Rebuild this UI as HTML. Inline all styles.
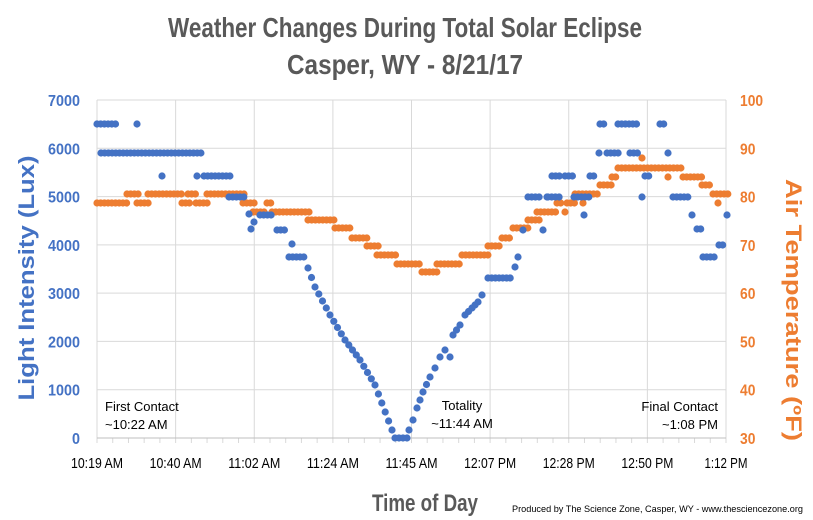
<!DOCTYPE html>
<html><head><meta charset="utf-8"><style>body{margin:0;background:#fff}svg{display:block}</style></head>
<body>
<svg id="s" width="813" height="520" xmlns="http://www.w3.org/2000/svg" font-family="'Liberation Sans Narrow','Liberation Sans',sans-serif">
<rect width="813" height="520" fill="#fff"/>
<g id="grid" stroke="#d9d9d9" stroke-width="1"></g>
<g id="dots"></g>
<g font-weight="bold" fill="#595959">
<text x="405" y="37" font-size="28" text-anchor="middle" textLength="474" lengthAdjust="spacingAndGlyphs">Weather Changes During Total Solar Eclipse</text>
<text x="405" y="74" font-size="28" text-anchor="middle" textLength="236" lengthAdjust="spacingAndGlyphs">Casper, WY - 8/21/17</text>
<text x="425" y="511" font-size="24" text-anchor="middle" textLength="106" lengthAdjust="spacingAndGlyphs">Time of Day</text>
</g>
<text x="34" y="278" font-size="22" font-weight="bold" fill="#4472C4" text-anchor="middle" transform="rotate(-90 34 278)" textLength="245" lengthAdjust="spacingAndGlyphs">Light Intensity (Lux)</text>
<text x="786" y="310" font-size="22" font-weight="bold" fill="#ED7D31" text-anchor="middle" transform="rotate(90 786 310)" textLength="262" lengthAdjust="spacingAndGlyphs">Air Temperature (ºF)</text>
<g id="ylab" font-size="16" font-weight="bold"></g>
<g id="xlab" font-size="15" fill="#000"></g>
<g font-family="'Liberation Sans',sans-serif" font-size="13" fill="#000">
<text x="105" y="411">First Contact</text><text x="105" y="429">~10:22 AM</text>
<text x="462" y="410" text-anchor="middle">Totality</text><text x="462" y="428" text-anchor="middle">~11:44 AM</text>
<text x="718" y="411" text-anchor="end">Final Contact</text><text x="718" y="429" text-anchor="end">~1:08 PM</text>
</g>
<text x="803" y="512" font-family="'Liberation Sans',sans-serif" font-size="9" fill="#000" text-anchor="end" textLength="291" lengthAdjust="spacingAndGlyphs">Produced by The Science Zone, Casper, WY - www.thesciencezone.org</text>
</svg>
<script>
var NS="http://www.w3.org/2000/svg";
function el(p,t,a,txt){var e=document.createElementNS(NS,t);for(var k in a)e.setAttribute(k,a[k]);if(txt!=null)e.textContent=txt;document.getElementById(p).appendChild(e);}
var L=97,R=726,T=100,B=438;
for(var i=0;i<=7;i++){var y=B-i*(B-T)/7;el('grid','line',{x1:L,x2:R,y1:y,y2:y});
var s=String(i*1000);
el('ylab','text',{x:80,y:y+6,'text-anchor':'end',fill:'#4472C4',textLength:(s.length*8).toString(),lengthAdjust:'spacingAndGlyphs'},s);
var t=String(30+i*10);
el('ylab','text',{x:740,y:y+6,fill:'#ED7D31',textLength:(t.length*7.7).toString(),lengthAdjust:'spacingAndGlyphs'},t);}
var xl=['10:19 AM','10:40 AM','11:02 AM','11:24 AM','11:45 AM','12:07 PM','12:28 PM','12:50 PM','1:12 PM'];
for(var i=0;i<=8;i++){var x=L+i*(R-L)/8;el('grid','line',{x1:x,x2:x,y1:T,y2:B});
el('xlab','text',{x:x,y:468,'text-anchor':'middle',textLength:(i==8?43:52).toString(),lengthAdjust:'spacingAndGlyphs'},xl[i]);}
for(var i=0;i<=40;i++){var x=L+i*(R-L)/40;el('grid','line',{x1:x,x2:x,y1:B,y2:B+5});}
el('grid','line',{x1:L,x2:R,y1:B,y2:B,stroke:'#bfbfbf'});
var st=3.7;
function seg(c,a,b,y){for(var x=a;x<=b+0.01;x+=st)el('dots','circle',{cx:x.toFixed(1),cy:y,r:3.6,fill:c});}
function curve(c,pts){for(var i=0;i<pts.length-1;i++){var p=pts[i],q=pts[i+1];var n=Math.max(1,Math.round((q[0]-p[0])/st));for(var j=0;j<n;j++){var t=j/n;el('dots','circle',{cx:(p[0]+t*(q[0]-p[0])).toFixed(1),cy:(p[1]+t*(q[1]-p[1])).toFixed(1),r:3.6,fill:c});}}}
var O='#ED7D31',Bl='#4472C4';
[[97,128,203],[127,140,194],[137,150,203],[148,182,194],[182,190,203],[188,197,194],[196,208,203],[207,245,194],[243,257,203],[253,267,212],[267,272,203],[272,310,212],[308,337,220],[335,353,228],[352,368,238],[367,380,246],[377,398,255],[397,422,264],[422,437,272],[437,462,264],[462,488,255],[488,502,246],[502,513,238],[513,528,228],[528,540,220],[537,557,212],[557,563,203],[565,565,212],[567,575,203],[575,600,194],[583,583,203],[600,612,185],[612,618,177],[618,683,168],[642,642,158],[668,668,177],[683,702,177],[702,713,185],[713,728,194],[718,718,203]].forEach(function(s){seg(O,s[0],s[1],s[2]);});
[[97,118,124],[137,137,124],[101,202,153],[162,162,176],[197,197,176],[204,231,176],[229,247,197],[260,272,215],[277,287,230],[289,305,257],[488,513,278],[528,542,197],[547,547,197],[543,543,230],[548,560,197],[552,560,176],[565,575,176],[584,584,215],[574,590,197],[590,595,176],[599,599,153],[607,620,153],[630,640,153],[668,670,153],[600,605,124],[618,637,124],[660,665,124],[642,642,197],[645,652,176],[673,690,197],[692,692,215],[697,703,229],[703,715,257],[719,723,245],[727,727,215]].forEach(function(s){seg(Bl,s[0],s[1],s[2]);});
curve(Bl,[[249,214],[251,229],[257,215]]);
el('dots','circle',{cx:292,cy:244,r:3.6,fill:Bl});
curve(Bl,[[308,268],[315,287],[330,315],[345,340],[360,360],[375,385],[392,430],[395,438],[407,438],[409,430],[413,420],[417,408],[423,392],[430,377],[435,368],[440,357],[445,350],[450,357],[453,335],[460,325],[465,315],[472,308],[478,302],[482,295],[486,287]]);
curve(Bl,[[515,267],[518,257],[523,230],[528,197]]);
</script>
</body></html>
